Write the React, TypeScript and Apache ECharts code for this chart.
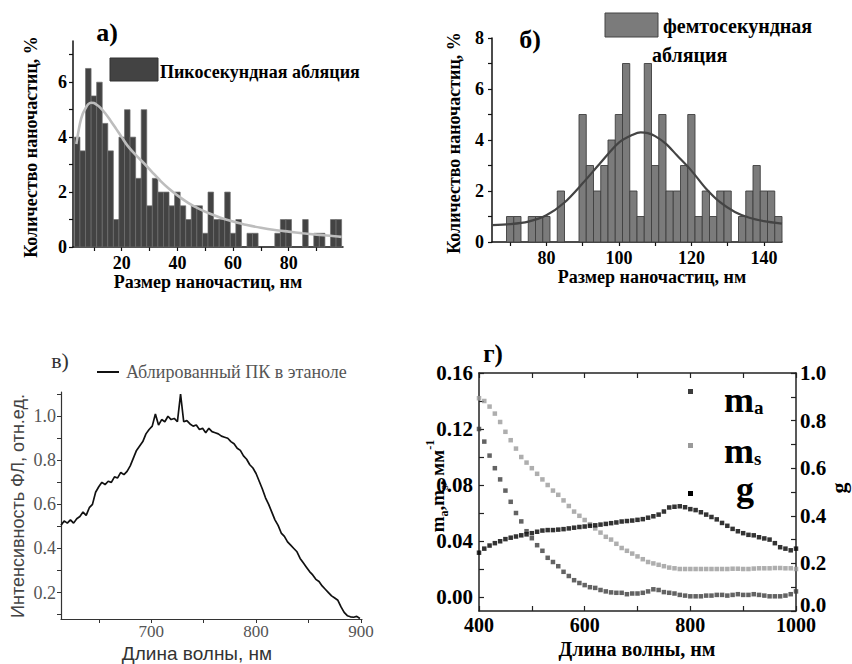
import React, { useEffect, useRef } from "react";
import * as echarts from "echarts";

// ---------- Panel а) picosecond ablation histogram ----------
const picoBinWidth = 2;
const picoCenters = [4, 6, 8, 10, 12, 14, 16, 18, 20, 22, 24, 26, 28, 30, 32, 34, 36, 38, 40, 42, 44, 46, 48, 50, 52, 54, 56, 58, 60, 62, 66, 68, 76, 78, 80, 86, 90, 92, 96, 98];
const picoPercent = [4, 3.5, 6.5, 5.5, 6, 4.5, 3.5, 1, 4, 5, 4, 2.5, 5, 1.5, 2.5, 2, 2, 1.5, 2, 1.5, 1, 1.5, 1.5, 0.5, 2, 1, 1, 2, 0.5, 1, 0.5, 0.5, 0.5, 1, 1, 1, 0.5, 0.5, 1, 1];
const picoFitX = [3.7, 5, 6, 7, 8, 9, 10, 11, 12, 14, 16, 18, 20, 22, 25, 28, 31, 34, 37, 40, 44, 48, 52, 56, 60, 65, 70, 75, 80, 85, 90, 95, 99];
const picoFitY = [3.75, 4.5, 4.85, 5.05, 5.2, 5.25, 5.24, 5.18, 5.1, 4.88, 4.6, 4.3, 4.0, 3.7, 3.35, 3.05, 2.72, 2.4, 2.12, 1.88, 1.6, 1.38, 1.2, 1.05, 0.93, 0.8, 0.7, 0.62, 0.56, 0.5, 0.45, 0.41, 0.37];
const picoXTicks = [10, 20, 30, 40, 50, 60, 70, 80, 90];
const picoXLabels = [20, 40, 60, 80];
const picoYTicks = [0, 1, 2, 3, 4, 5, 6, 7];
const picoYLabels = [0, 2, 4, 6];

// ---------- Panel б) femtosecond ablation histogram ----------
const femtoBinWidth = 2;
const femtoCenters = [70, 72, 76, 78, 80, 84, 90, 92, 94, 96, 98, 100, 102, 104, 106, 108, 110, 112, 114, 116, 118, 120, 122, 124, 126, 128, 130, 134, 136, 138, 140, 142, 144];
const femtoPercent = [1, 1, 1, 1, 1, 2, 5, 3, 2, 3, 4, 5, 7, 2, 1, 7, 3, 5, 2, 2, 3, 5, 1, 2, 1, 2, 2, 1, 2, 3, 2, 2, 1];
const femtoFitX = [65, 70, 75, 80, 85, 90, 95, 100, 104, 106, 108, 110, 113, 116, 120, 124, 128, 132, 136, 140, 145];
const femtoFitY = [0.66, 0.7, 0.8, 1.05, 1.55, 2.3, 3.12, 3.9, 4.22, 4.3, 4.27, 4.15, 3.85, 3.4, 2.8, 2.1, 1.55, 1.18, 0.95, 0.82, 0.72];
const femtoXTicks = [70, 80, 90, 100, 110, 120, 130, 140];
const femtoXLabels = [80, 100, 120, 140];
const femtoYTicks = [0, 1, 2, 3, 4, 5, 6, 7, 8];
const femtoYLabels = [0, 2, 4, 6, 8];

// ---------- Panel в) PL spectrum ----------
const flWavelength = [614, 617, 620, 623, 626, 629, 632, 635, 638, 641, 644, 647, 650, 653, 656, 659, 662, 665, 668, 671, 674, 677, 680, 683, 686, 689, 692, 695, 698, 701, 704, 707, 710, 713, 716, 719, 722, 725, 728, 731, 734, 737, 740, 743, 746, 749, 752, 755, 758, 761, 764, 767, 770, 773, 776, 779, 782, 785, 788, 791, 794, 797, 800, 803, 806, 809, 812, 815, 818, 821, 824, 827, 830, 833, 836, 839, 842, 845, 848, 851, 854, 857, 860, 863, 866, 869, 872, 875, 878, 881, 884, 887, 890, 893, 896, 899];
const flIntensity = [0.505, 0.525, 0.515, 0.53, 0.515, 0.535, 0.545, 0.565, 0.55, 0.585, 0.6, 0.655, 0.68, 0.7, 0.69, 0.705, 0.7, 0.725, 0.72, 0.745, 0.735, 0.75, 0.775, 0.81, 0.845, 0.865, 0.885, 0.92, 0.94, 0.955, 1.01, 0.96, 0.985, 0.975, 1.0, 0.985, 0.99, 0.975, 1.1, 0.975, 0.98, 0.965, 0.955, 0.96, 0.94, 0.945, 0.925, 0.945, 0.93, 0.925, 0.92, 0.91, 0.905, 0.9, 0.885, 0.875, 0.855, 0.845, 0.82, 0.805, 0.78, 0.765, 0.74, 0.705, 0.67, 0.63, 0.6, 0.565, 0.53, 0.505, 0.47, 0.455, 0.43, 0.415, 0.4, 0.385, 0.355, 0.335, 0.315, 0.295, 0.28, 0.26, 0.25, 0.23, 0.215, 0.2, 0.185, 0.175, 0.165, 0.135, 0.11, 0.095, 0.09, 0.088, 0.092, 0.082];
const flXTicks = [650, 700, 750, 800, 850, 900];
const flXLabels = [700, 800, 900];
const flYTicks = [0.1, 0.2, 0.3, 0.4, 0.5, 0.6, 0.7, 0.8, 0.9, 1.0, 1.1];
const flYLabels = [0.2, 0.4, 0.6, 0.8, 1.0];

// ---------- Panel г) optical coefficients ----------
const optWavelength = [400, 410, 420, 430, 440, 450, 460, 470, 480, 490, 500, 510, 520, 530, 540, 550, 560, 570, 580, 590, 600, 610, 620, 630, 640, 650, 660, 670, 680, 690, 700, 710, 720, 730, 740, 750, 760, 770, 780, 790, 800, 810, 820, 830, 840, 850, 860, 870, 880, 890, 900, 910, 920, 930, 940, 950, 960, 970, 980, 990, 1000];
const muA = [0.12, 0.111, 0.101, 0.092, 0.084, 0.076, 0.068, 0.06, 0.054, 0.047, 0.042, 0.037, 0.033, 0.028, 0.025, 0.022, 0.018, 0.015, 0.012, 0.01, 0.0085, 0.007, 0.0065, 0.005, 0.004, 0.0033, 0.003, 0.003, 0.002, 0.0025, 0.0025, 0.003, 0.004, 0.0055, 0.005, 0.0035, 0.003, 0.0025, 0.0015, 0.001, 0.0005, 0.0005, 0.0005, 0.001, 0.001, 0.0015, 0.0015, 0.001, 0.0015, 0.002, 0.0015, 0.0015, 0.002, 0.0015, 0.001, 0.0005, 0.0005, 0.0005, 0.001, 0.002, 0.004];
const muS = [0.142, 0.14, 0.136, 0.131, 0.125, 0.118, 0.112, 0.106, 0.1, 0.096, 0.092, 0.088, 0.084, 0.08, 0.076, 0.073, 0.069, 0.065, 0.061, 0.058, 0.055, 0.052, 0.049, 0.046, 0.043, 0.041, 0.038, 0.035, 0.033, 0.031, 0.029, 0.027, 0.025, 0.024, 0.023, 0.022, 0.021, 0.0205, 0.02, 0.02, 0.02, 0.02, 0.02, 0.02, 0.02, 0.02, 0.02, 0.02, 0.0202, 0.0202, 0.02, 0.02, 0.0203, 0.0205, 0.0205, 0.0205, 0.0207, 0.0207, 0.0205, 0.0205, 0.02];
const gFactor = [0.245, 0.262, 0.275, 0.285, 0.293, 0.302, 0.308, 0.313, 0.318, 0.322, 0.327, 0.333, 0.338, 0.34, 0.34, 0.342, 0.344, 0.347, 0.35, 0.353, 0.355, 0.358, 0.36, 0.363, 0.366, 0.369, 0.372, 0.376, 0.378, 0.38, 0.383, 0.386, 0.392, 0.398, 0.405, 0.418, 0.435, 0.438, 0.44, 0.436, 0.428, 0.424, 0.415, 0.405, 0.395, 0.385, 0.37, 0.358, 0.345, 0.335, 0.327, 0.32, 0.318, 0.31, 0.305, 0.3, 0.285, 0.268, 0.262, 0.255, 0.262];
const optXTicks = [400, 500, 600, 700, 800, 900, 1000];
const optXLabels = [400, 600, 800, 1000];
const optYTicks = [0, 0.02, 0.04, 0.06, 0.08, 0.1, 0.12, 0.14, 0.16];
const optYLabels = [0, 0.04, 0.08, 0.12, 0.16];
const gTicks = [0, 0.1, 0.2, 0.3, 0.4, 0.5, 0.6, 0.7, 0.8, 0.9, 1.0];
const gLabels = [0, 0.2, 0.4, 0.6, 0.8, 1.0];

const SERIF = "'Liberation Serif', 'Times New Roman', serif";
const SERIF_Q = `"Liberation Serif", serif`;
const SANS_Q = `"Liberation Sans", Arial, sans-serif`;

const zip = (a: number[], b: number[]) => a.map((v, i) => [v, b[i]]);
const plain = (v: number) => String(v);

function histItem(bin: number, fill: string, stroke: string, lw: number) {
  return (params: any, api: any) => {
    const x = api.value(0);
    const y = api.value(1);
    const p1 = api.coord([x - bin / 2, y]);
    const p2 = api.coord([x + bin / 2, 0]);
    return {
      type: "rect",
      shape: { x: p1[0], y: p1[1], width: p2[0] - p1[0], height: p2[1] - p1[1] },
      style: { fill, stroke, lineWidth: lw },
    };
  };
}

function axisBase(color: string, width: number) {
  return {
    axisLine: { show: true, onZero: false, lineStyle: { color, width } },
    splitLine: { show: false },
  };
}

export default function App() {
  const ref = useRef<HTMLDivElement>(null);
  useEffect(() => {
    if (!ref.current) return;
    const chart = echarts.init(ref.current, undefined, { renderer: "svg" });
    const boldLabel = { fontFamily: SERIF, fontWeight: "bold", fontSize: 18, color: "#000" };
    const cLabel = { fontFamily: SERIF, fontSize: 18, color: "#555" };
    const dLabel = { fontFamily: SERIF, fontWeight: "bold", fontSize: 20, color: "#000" };
    const tickA = { lineStyle: { color: "#111", width: 1.2 } };

    const option: any = {
      animation: false,
      backgroundColor: "#fff",
      grid: [
        { left: 73, top: 41, width: 270, height: 206, outerBoundsMode: "none" },
        { left: 492, top: 38, width: 290, height: 204, outerBoundsMode: "none" },
        { left: 61, top: 392, width: 301, height: 227, outerBoundsMode: "none" },
        { left: 479, top: 373, width: 317, height: 238, outerBoundsMode: "none" },
      ],
      xAxis: [
        {
          gridIndex: 0, type: "value", min: 2.5, max: 99.5, ...axisBase("#111", 1.5),
          axisTick: { show: true, length: 4, customValues: picoXTicks, ...tickA },
          axisLabel: { ...boldLabel, margin: 7, customValues: picoXLabels, formatter: plain },
        },
        {
          gridIndex: 1, type: "value", min: 65, max: 145, ...axisBase("#111", 1.5),
          axisTick: { show: true, length: 4, customValues: femtoXTicks, ...tickA },
          axisLabel: { ...boldLabel, margin: 7, customValues: femtoXLabels, formatter: plain },
        },
        {
          gridIndex: 2, type: "value", min: 614, max: 901, ...axisBase("#333", 1.2),
          axisTick: { show: true, length: 4, customValues: flXTicks, lineStyle: { color: "#333", width: 1 } },
          axisLabel: { ...cLabel, fontSize: 17, lineHeight: 17, margin: 4, customValues: flXLabels, formatter: plain },
        },
        {
          gridIndex: 3, type: "value", min: 400, max: 1000, ...axisBase("#222", 1.5),
          axisTick: { show: true, inside: true, length: 5, customValues: optXTicks, lineStyle: { color: "#222", width: 1.2 } },
          axisLabel: { ...dLabel, lineHeight: 16, margin: 6, customValues: optXLabels, formatter: plain },
        },
        {
          gridIndex: 3, type: "value", position: "top", min: 400, max: 1000, ...axisBase("#222", 1.5),
          axisTick: { show: true, inside: true, length: 5, customValues: optXTicks, lineStyle: { color: "#222", width: 1.2 } },
          axisLabel: { show: false },
        },
      ],
      yAxis: [
        {
          gridIndex: 0, type: "value", min: 0, max: 7.5, ...axisBase("#111", 1.5),
          axisTick: { show: true, length: 4, customValues: picoYTicks, ...tickA },
          axisLabel: { ...boldLabel, margin: 6, customValues: picoYLabels, formatter: plain },
        },
        {
          gridIndex: 1, type: "value", min: 0, max: 8, ...axisBase("#111", 1.5),
          axisTick: { show: true, length: 4, customValues: femtoYTicks, ...tickA },
          axisLabel: { ...boldLabel, margin: 8, customValues: femtoYLabels, formatter: plain },
        },
        {
          gridIndex: 2, type: "value", min: 0.08, max: 1.11, ...axisBase("#333", 1.2),
          axisTick: { show: true, length: 4, customValues: flYTicks, lineStyle: { color: "#333", width: 1 } },
          axisLabel: { ...cLabel, margin: 5, customValues: flYLabels, formatter: (v: number) => v.toFixed(1) },
        },
        {
          gridIndex: 3, type: "value", min: -0.01, max: 0.16, ...axisBase("#222", 1.5),
          axisTick: { show: true, inside: true, length: 5, customValues: optYTicks, lineStyle: { color: "#222", width: 1.2 } },
          axisLabel: { ...dLabel, fontSize: 21, margin: 6, customValues: optYLabels, formatter: (v: number) => v.toFixed(2) },
        },
        {
          gridIndex: 3, type: "value", position: "right", min: 0, max: 1, ...axisBase("#222", 1.5),
          axisTick: { show: true, inside: true, length: 5, customValues: gTicks, lineStyle: { color: "#222", width: 1.2 } },
          axisLabel: {
            ...dLabel, fontSize: 21, margin: 4, customValues: gLabels,
            formatter: (v: number) => (v === 0 ? "{z|0.0}" : v.toFixed(1)),
            rich: { z: { fontFamily: SERIF, fontWeight: "bold", fontSize: 21, color: "#000", padding: [0, 0, 12, 0] } },
          },
        },
      ],
      series: [
        {
          type: "custom", xAxisIndex: 0, yAxisIndex: 0, z: 2,
          data: zip(picoCenters, picoPercent),
          encode: { x: 0, y: 1 },
          renderItem: histItem(picoBinWidth, "#434343", "#6e6e6e", 0.7),
        },
        {
          type: "line", xAxisIndex: 0, yAxisIndex: 0, z: 3, smooth: 0.3, showSymbol: false,
          data: zip(picoFitX, picoFitY),
          lineStyle: { color: "#bdbdbd", width: 2.6 },
        },
        {
          type: "custom", xAxisIndex: 1, yAxisIndex: 1, z: 2,
          data: zip(femtoCenters, femtoPercent),
          encode: { x: 0, y: 1 },
          renderItem: histItem(femtoBinWidth, "#7b7b7b", "#3f3f3f", 0.9),
        },
        {
          type: "line", xAxisIndex: 1, yAxisIndex: 1, z: 3, smooth: 0.3, showSymbol: false,
          data: zip(femtoFitX, femtoFitY),
          lineStyle: { color: "#444", width: 2.2 },
        },
        {
          type: "line", xAxisIndex: 2, yAxisIndex: 2, showSymbol: false,
          data: zip(flWavelength, flIntensity),
          lineStyle: { color: "#111", width: 1.7 },
        },
        {
          type: "scatter", xAxisIndex: 3, yAxisIndex: 3, symbol: "rect", symbolSize: 4.5,
          data: zip(optWavelength, muA),
          itemStyle: { color: "#3c3c3c" },
        },
        {
          type: "scatter", xAxisIndex: 3, yAxisIndex: 3, symbol: "rect", symbolSize: 4.5,
          data: zip(optWavelength, muS),
          itemStyle: { color: "#9a9a9a" },
        },
        {
          type: "scatter", xAxisIndex: 3, yAxisIndex: 4, symbol: "rect", symbolSize: 4.5,
          data: zip(optWavelength, gFactor),
          itemStyle: { color: "#000" },
        },
      ],
      graphic: [
        // panel letters
        { type: "text", x: 107, y: 32, style: { text: "а)", font: `bold 26px ${SERIF_Q}`, fill: "#000", align: "center", verticalAlign: "middle" } },
        { type: "text", x: 530, y: 39, style: { text: "б)", font: `bold 26px ${SERIF_Q}`, fill: "#000", align: "center", verticalAlign: "middle" } },
        { type: "text", x: 60, y: 360, style: { text: "в)", font: `22px ${SERIF_Q}`, fill: "#333", align: "center", verticalAlign: "middle" } },
        { type: "text", x: 493, y: 353, style: { text: "г)", font: `bold 25px ${SERIF_Q}`, fill: "#000", align: "center", verticalAlign: "middle" } },
        // legends а, б
        { type: "rect", shape: { x: 110, y: 58, width: 48, height: 23 }, style: { fill: "#434343", stroke: "#333", lineWidth: 1 } },
        { type: "text", x: 160, y: 72, style: { text: "Пикосекундная абляция", font: `bold 18px ${SERIF_Q}`, fill: "#000", verticalAlign: "middle" } },
        { type: "rect", shape: { x: 605, y: 13, width: 53, height: 24 }, style: { fill: "#7b7b7b", stroke: "#444", lineWidth: 1 } },
        { type: "text", x: 663, y: 26, style: { text: "фемтосекундная", font: `bold 20px ${SERIF_Q}`, fill: "#000", verticalAlign: "middle" } },
        { type: "text", x: 652, y: 55, style: { text: "абляция", font: `bold 20px ${SERIF_Q}`, fill: "#000", verticalAlign: "middle" } },
        // axis titles а, б
        { type: "text", x: 31, y: 147, rotation: Math.PI / 2, style: { text: "Количество наночастиц, %", font: `bold 18px ${SERIF_Q}`, fill: "#000", align: "center", verticalAlign: "middle" } },
        { type: "text", x: 454, y: 143, rotation: Math.PI / 2, style: { text: "Количество наночастиц, %", font: `bold 18px ${SERIF_Q}`, fill: "#000", align: "center", verticalAlign: "middle" } },
        { type: "text", x: 208, y: 282, style: { text: "Размер наночастиц, нм", font: `bold 18px ${SERIF_Q}`, fill: "#000", align: "center", verticalAlign: "middle" } },
        { type: "text", x: 652, y: 277, style: { text: "Размер наночастиц, нм", font: `bold 18px ${SERIF_Q}`, fill: "#000", align: "center", verticalAlign: "middle" } },
        // panel в legend and titles
        { type: "line", shape: { x1: 97, y1: 372, x2: 119, y2: 372 }, style: { stroke: "#111", lineWidth: 2 } },
        { type: "text", x: 126, y: 372, style: { text: "Аблированный ПК в этаноле", font: `18px ${SERIF_Q}`, fill: "#555", verticalAlign: "middle" } },
        { type: "text", x: 18, y: 506, rotation: Math.PI / 2, style: { text: "Интенсивность ФЛ, отн.ед.", font: `18px ${SANS_Q}`, fill: "#444", align: "center", verticalAlign: "middle" } },
        { type: "text", x: 197, y: 653, style: { text: "Длина волны, нм", font: `19px ${SANS_Q}`, lineHeight: 19, fill: "#333", align: "center", verticalAlign: "middle" } },
        // panel г titles
        { type: "text", x: 637, y: 649, style: { text: "Длина волны, нм", font: `bold 20px ${SERIF_Q}`, lineHeight: 20, fill: "#000", align: "center", verticalAlign: "middle" } },
        {
          type: "text", x: 437, y: 486, rotation: Math.PI / 2,
          style: {
            text: "{m|m}{s|a}{m|,m}{s|s}{m|, мм}{p|-1}", align: "center", verticalAlign: "middle",
            rich: {
              m: { font: `bold 19px ${SERIF_Q}`, fill: "#000", lineHeight: 26 },
              s: { font: `bold 12px ${SERIF_Q}`, fill: "#000", lineHeight: 26, verticalAlign: "bottom" },
              p: { font: `bold 12px ${SERIF_Q}`, fill: "#000", lineHeight: 26, verticalAlign: "top" },
            },
          },
        },
        { type: "text", x: 838, y: 488, rotation: Math.PI / 2, style: { text: "g", font: `bold 22px ${SERIF_Q}`, fill: "#000", align: "center", verticalAlign: "middle" } },
        // panel г legend
        { type: "rect", shape: { x: 688, y: 389, width: 5, height: 5 }, style: { fill: "#3c3c3c" } },
        { type: "rect", shape: { x: 688, y: 443, width: 5, height: 5 }, style: { fill: "#9a9a9a" } },
        { type: "rect", shape: { x: 688, y: 491, width: 5, height: 5 }, style: { fill: "#000" } },
        {
          type: "text", x: 724, y: 400,
          style: {
            text: "{m|m}{s|a}", verticalAlign: "middle",
            rich: {
              m: { font: `bold 36px ${SERIF_Q}`, fill: "#000", lineHeight: 34 },
              s: { font: `bold 19px ${SERIF_Q}`, fill: "#000", lineHeight: 34, verticalAlign: "bottom" },
            },
          },
        },
        {
          type: "text", x: 724, y: 451,
          style: {
            text: "{m|m}{s|s}", verticalAlign: "middle",
            rich: {
              m: { font: `bold 36px ${SERIF_Q}`, fill: "#000", lineHeight: 34 },
              s: { font: `bold 19px ${SERIF_Q}`, fill: "#000", lineHeight: 34, verticalAlign: "bottom" },
            },
          },
        },
        { type: "text", x: 736, y: 489, style: { text: "g", font: `bold 36px ${SERIF_Q}`, lineHeight: 32, fill: "#000", verticalAlign: "middle" } },
      ],
    };
    chart.setOption(option);
    return () => chart.dispose();
  }, []);
  return <div ref={ref} style={{ position: "absolute", left: 0, top: 0, width: 852, height: 664, background: "#fff" }} />;
}
